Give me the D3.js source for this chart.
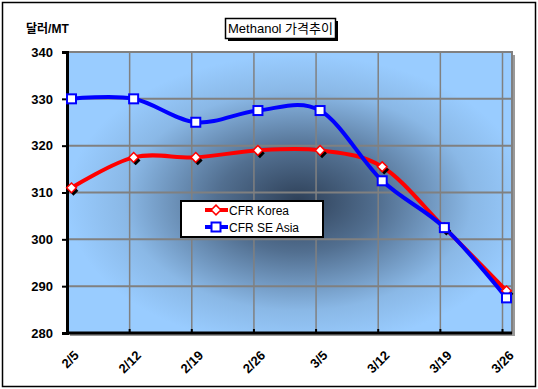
<!DOCTYPE html>
<html>
<head>
<meta charset="utf-8">
<script src="https://cdn.jsdelivr.net/npm/d3@7"></script>
<style>
  body { margin: 0; background: #fff; }
  text { font-family: Arial, "Liberation Sans", "Noto Sans CJK KR", sans-serif; }
</style>
</head>
<body>
<div id="chart"></div>
<script>
const weeks = ["2/5", "2/12", "2/19", "2/26", "3/5", "3/12", "3/19", "3/26"];
const korea = [311, 317.5, 317.5, 319, 319, 315.5, 302.5, 289];
const seAsia = [330, 330, 325, 327.5, 327.5, 312.5, 302.5, 287.5];
const yTicks = [280, 290, 300, 310, 320, 330, 340];

const W = 538, H = 389;
const plot = {left: 67, top: 52, right: 512, bottom: 333};

const svg = d3.select("#chart").append("svg")
    .attr("width", W)
    .attr("height", H);

// outer frame
svg.append("rect")
    .attr("x", 2.5).attr("y", 2.5)
    .attr("width", 533).attr("height", 384)
    .attr("fill", "#fff")
    .attr("stroke", "#000")
    .attr("stroke-width", 1.5);

const defs = svg.append("defs");
const grad = defs.append("radialGradient")
    .attr("id", "bg")
    .attr("cx", 0.52).attr("cy", 0.53)
    .attr("r", 0.52);
grad.append("stop").attr("offset", "0%").attr("stop-color", "#2e4058");
grad.append("stop").attr("offset", "35%").attr("stop-color", "#526f90");
grad.append("stop").attr("offset", "75%").attr("stop-color", "#8ab8e6");
grad.append("stop").attr("offset", "100%").attr("stop-color", "#99ccff");

const x = d3.scaleLinear()
    .domain([0, weeks.length - 1])
    .range([plot.left + 4.5, plot.right - 5.5]);

const y = d3.scaleLinear()
    .domain([280, 340])
    .range([plot.bottom, plot.top]);

// plot area shadow and background
svg.append("rect")
    .attr("x", plot.left + 3).attr("y", plot.top + 3)
    .attr("width", plot.right - plot.left).attr("height", plot.bottom - plot.top)
    .attr("fill", "#999");

svg.append("rect")
    .attr("x", plot.left).attr("y", plot.top)
    .attr("width", plot.right - plot.left).attr("height", plot.bottom - plot.top)
    .attr("fill", "url(#bg)")
    .attr("stroke", "#808080")
    .attr("stroke-width", 2);

// gridlines
svg.append("g")
    .selectAll("line")
    .data(yTicks.slice(1, -1))
    .join("line")
    .attr("x1", plot.left).attr("x2", plot.right)
    .attr("y1", d => y(d)).attr("y2", d => y(d))
    .attr("stroke", "#808080")
    .attr("stroke-width", 2);

svg.append("g")
    .selectAll("line")
    .data(d3.range(1, weeks.length))
    .join("line")
    .attr("x1", d => x(d) - 4).attr("x2", d => x(d) - 4)
    .attr("y1", plot.top).attr("y2", plot.bottom)
    .attr("stroke", "#808080")
    .attr("stroke-width", 1.5);

// axes
const yAxis = svg.append("g")
    .attr("transform", `translate(${plot.left},0)`)
    .call(d3.axisLeft(y).tickValues(yTicks).tickSize(5).tickPadding(9));
yAxis.select(".domain").attr("stroke-width", 3);
yAxis.selectAll(".tick line").attr("stroke-width", 2);
yAxis.selectAll("text")
    .attr("font-size", 13)
    .attr("font-weight", "bold")
    .attr("fill", "#000");

svg.append("line")
    .attr("x1", plot.left - 1).attr("x2", plot.right)
    .attr("y1", plot.bottom).attr("y2", plot.bottom)
    .attr("stroke", "#000")
    .attr("stroke-width", 3);

svg.append("g")
    .selectAll("line")
    .data(d3.range(1, weeks.length))
    .join("line")
    .attr("x1", d => x(d) - 4).attr("x2", d => x(d) - 4)
    .attr("y1", plot.bottom).attr("y2", plot.bottom - 4)
    .attr("stroke", "#000")
    .attr("stroke-width", 2);

svg.append("g")
    .selectAll("text")
    .data(weeks)
    .join("text")
    .attr("transform", (d, i) => `translate(${x(i) + 5},${plot.bottom + 20}) rotate(-45)`)
    .attr("text-anchor", "end")
    .attr("dy", "0.35em")
    .attr("font-size", 13)
    .attr("font-weight", "bold")
    .text(d => d);

// series
const line = d3.line()
    .x((d, i) => x(i))
    .y(d => y(d))
    .curve(d3.curveCardinal.tension(0));

svg.append("path")
    .datum(korea)
    .attr("d", line)
    .attr("fill", "none")
    .attr("stroke", "#ff0000")
    .attr("stroke-width", 4);

svg.append("path")
    .datum(seAsia)
    .attr("d", line)
    .attr("fill", "none")
    .attr("stroke", "#0000ff")
    .attr("stroke-width", 4);

const diamond = d3.symbol().type(d3.symbolDiamond2).size(60);

svg.append("g")
    .selectAll("path")
    .data(korea)
    .join("path")
    .attr("transform", (d, i) => `translate(${x(i) + 2},${y(d) + 3})`)
    .attr("d", diamond)
    .attr("fill", "#000");

svg.append("g")
    .selectAll("path")
    .data(korea)
    .join("path")
    .attr("transform", (d, i) => `translate(${x(i)},${y(d)})`)
    .attr("d", diamond)
    .attr("fill", "#fff")
    .attr("stroke", "#ff0000")
    .attr("stroke-width", 1.5);

svg.append("g")
    .selectAll("rect")
    .data(seAsia)
    .join("rect")
    .attr("x", (d, i) => x(i) - 4.5)
    .attr("y", d => y(d) - 4.5)
    .attr("width", 9).attr("height", 9)
    .attr("fill", "#fff")
    .attr("stroke", "#0000ff")
    .attr("stroke-width", 2);

// unit label
svg.append("text")
    .attr("x", 26).attr("y", 33)
    .attr("font-size", 12)
    .attr("font-weight", "bold")
    .text("달러/MT");

// title box
svg.append("rect")
    .attr("x", 228).attr("y", 21)
    .attr("width", 110).attr("height", 20)
    .attr("fill", "#000");
svg.append("rect")
    .attr("x", 225.5).attr("y", 18.5)
    .attr("width", 110).attr("height", 20)
    .attr("fill", "#fff")
    .attr("stroke", "#000")
    .attr("stroke-width", 1.5);
svg.append("text")
    .attr("x", 280.5).attr("y", 33)
    .attr("text-anchor", "middle")
    .attr("font-size", 13)
    .text("Methanol 가격추이");

// legend
const legend = svg.append("g");
legend.append("rect")
    .attr("x", 181).attr("y", 201)
    .attr("width", 142).attr("height", 36)
    .attr("fill", "#fff")
    .attr("stroke", "#000")
    .attr("stroke-width", 2);

const legendItems = [
    {name: "CFR Korea", color: "#ff0000", shape: "diamond"},
    {name: "CFR SE Asia", color: "#0000ff", shape: "square"}
];

legendItems.forEach((s, i) => {
    const ly = 210 + i * 17;
    legend.append("line")
        .attr("x1", 205).attr("x2", 228)
        .attr("y1", ly).attr("y2", ly)
        .attr("stroke", s.color)
        .attr("stroke-width", 4);
    if (s.shape === "diamond") {
        legend.append("path")
            .attr("transform", `translate(216,${ly})`)
            .attr("d", diamond)
            .attr("fill", "#fff")
            .attr("stroke", s.color)
            .attr("stroke-width", 1.5);
    } else {
        legend.append("rect")
            .attr("x", 211.5).attr("y", ly - 4.5)
            .attr("width", 9).attr("height", 9)
            .attr("fill", "#fff")
            .attr("stroke", s.color)
            .attr("stroke-width", 2);
    }
    legend.append("text")
        .attr("x", 229).attr("y", ly + 4.5)
        .attr("font-size", 12)
        .text(s.name);
});
</script>
</body>
</html>
